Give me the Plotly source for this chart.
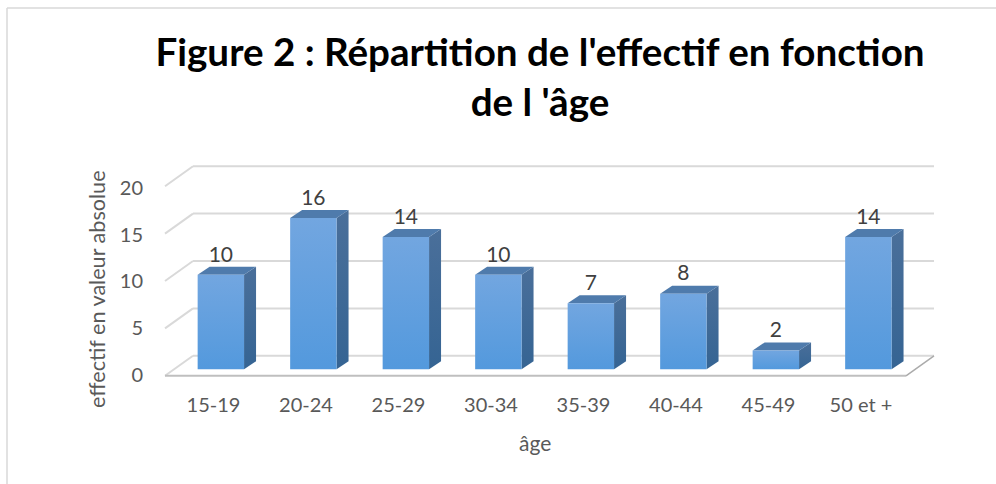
import plotly.graph_objects as go

categories = ["15-19", "20-24", "25-29", "30-34", "35-39", "40-44", "45-49", "50 et +"]
values = [10, 16, 14, 10, 7, 8, 2, 14]
grid_values = [0, 5, 10, 15, 20]
title_text = "Figure 2 : Répartition de l'effectif en fonction<br>de l 'âge"
x_title = "âge"
y_title = "effectif en valeur absolue"

W, H = 996, 484
L, R, T, B = 160, 946, 150, 385
PX_X, PX_Y = 92.5, 9.45
X0_PX, Y0_PX = 220.85, 369.3


def dx(px):
    return px / PX_X


def dy(px):
    return px / PX_Y


x_range = [(L - X0_PX) / PX_X, (R - X0_PX) / PX_X]
y_range = [(Y0_PX - B) / PX_Y, (Y0_PX - T) / PX_Y]
half = dx(23.2)
depth_x, depth_y = dx(12), dy(8)
wall_x, wall_y = dx(28), dy(20)
floor_left = (165 - X0_PX) / PX_X
floor_right = (906 - X0_PX) / PX_X
floor_y = dy(-6.5)

fig = go.Figure()


def line(xs, ys, color, width):
    fig.add_trace(go.Scatter(x=xs, y=ys, mode="lines", line=dict(color=color, width=width),
                             hoverinfo="skip", showlegend=False))


def poly(xs, ys, **kw):
    fig.add_trace(go.Scatter(x=xs, y=ys, mode="lines", line=dict(width=0), fill="toself",
                             hoverinfo="skip", showlegend=False, **kw))


for g in grid_values:
    y = floor_y + g * 9.48 / PX_Y
    line([floor_left, floor_left + wall_x], [y, y + wall_y], "#D9D9D9", 2)
    line([floor_left + wall_x, floor_right + wall_x], [y + wall_y, y + wall_y], "#D9D9D9", 2)
line([floor_left, floor_right], [floor_y, floor_y], "#BFBFBF", 2)
line([floor_right, floor_right + wall_x], [floor_y, floor_y + wall_y], "#ABABAB", 1.5)

for i, v in enumerate(values):
    l, r = i - half, i + half
    poly([r, r + depth_x, r + depth_x, r, r], [0, depth_y, v + depth_y, v, 0],
         fillgradient=dict(type="vertical", start=v + depth_y, stop=0,
                           colorscale=[[0, "#4A6F9A"], [1, "#356493"]]))
    poly([l, r, r + depth_x, l + depth_x, l], [v, v, v + depth_y, v + depth_y, v], fillcolor="#4F7BAC")
    poly([l, r, r, l, l], [0, 0, v, v, 0],
         fillgradient=dict(type="vertical", start=v, stop=0,
                           colorscale=[[0, "#72A6E0"], [1, "#5399DD"]]))

fig.add_trace(go.Scatter(x=list(range(len(values))), y=[v + dy(18.5) for v in values], mode="text",
                         text=[str(v) for v in values], textposition="middle center",
                         textfont=dict(family="Lato", size=21, color="#404040"),
                         hoverinfo="skip", showlegend=False))

fig.update_layout(
    width=W, height=H, margin=dict(l=L, r=W - R, t=T, b=H - B, autoexpand=False),
    paper_bgcolor="white", plot_bgcolor="white", showlegend=False,
    title=dict(text=title_text, x=540 / W, xanchor="center", y=1 - 66 / H, yanchor="top",
               font=dict(family="Lato", size=38.6, color="#000000", weight="bold")),
    xaxis=dict(range=x_range, showgrid=False, zeroline=False, showline=False,
               tickmode="array", tickvals=[i - 0.08 for i in range(len(categories))], ticktext=categories,
               ticks="outside", ticklen=2, tickcolor="rgba(0,0,0,0)",
               tickfont=dict(family="Lato", size=20, color="#595959")),
    yaxis=dict(range=y_range, showgrid=False, zeroline=False, showline=False,
               tickmode="array", tickvals=[-0.6 + g * 0.99 for g in grid_values],
               ticktext=[str(g) for g in grid_values],
               ticks="outside", ticklen=12, tickcolor="rgba(0,0,0,0)",
               tickfont=dict(family="Lato", size=20, color="#595959")),
    annotations=[
        dict(text=x_title, x=(535 - L) / (R - L), y=1 - (442 - T) / (B - T), xref="paper", yref="paper",
             showarrow=False, xanchor="center", yanchor="middle",
             font=dict(family="Lato", size=21, color="#595959")),
        dict(text=y_title, x=(97 - L) / (R - L), y=1 - (289 - T) / (B - T), xref="paper", yref="paper",
             showarrow=False, textangle=-90, xanchor="center", yanchor="middle",
             font=dict(family="Lato", size=21.6, color="#595959")),
    ],
    shapes=[
        dict(type="line", xref="paper", yref="paper", x0=(7 - L) / (R - L), x1=(7 - L) / (R - L),
             y0=1 - (8 - T) / (B - T), y1=1 - (484 - T) / (B - T), line=dict(color="#D9D9D9", width=1.5)),
        dict(type="line", xref="paper", yref="paper", x0=(7 - L) / (R - L), x1=(996 - L) / (R - L),
             y0=1 - (8 - T) / (B - T), y1=1 - (8 - T) / (B - T), line=dict(color="#D9D9D9", width=1.5)),
    ],
)
fig.write_html("out.html", config=dict(displayModeBar=False),
               post_script="document.body.style.margin='0';document.documentElement.style.overflow='hidden';")
